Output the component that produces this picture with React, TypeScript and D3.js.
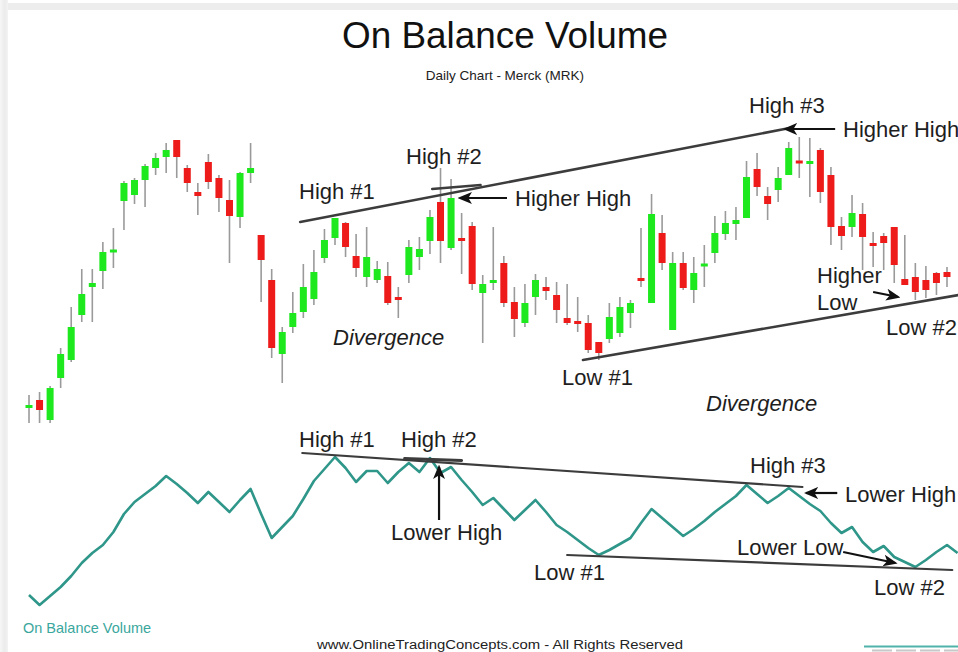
import React from "react";
import * as d3 from "d3";

// ---- Data (daily candles, Merck) ----
const opens = [31.65,32.00,31.00,33.10,34.00,36.25,37.65,38.45,39.40,41.95,
42.25,43.00,43.60,44.15,45.00,43.60,42.40,43.90,43.10,42.00,
41.15,43.35,40.25,38.00,34.30,35.65,36.40,37.05,39.10,40.10,
40.85,39.20,38.15,38.00,38.20,37.15,38.25,39.15,39.95,41.90,
39.60,40.10,40.70,37.35,37.85,38.85,36.90,35.85,37.15,37.65,
37.25,36.10,35.95,35.85,34.90,35.05,35.35,36.35,38.10,36.85,
40.35,35.50,38.85,37.50,38.70,39.35,40.30,40.80,41.10,43.55,
42.20,42.50,43.25,43.95,43.85,44.50,43.25,40.70,40.65,41.30,
39.85,40.20,40.65,38.05,38.15,38.00,38.35,38.40];
const highs = [32.25,32.40,32.70,34.60,36.65,38.55,38.55,39.90,40.60,42.95,
43.10,43.80,44.35,44.85,45.00,43.75,42.85,44.30,43.25,43.00,
43.40,44.85,40.25,38.55,35.65,37.40,38.80,39.50,40.55,41.10,
40.90,40.30,40.65,38.95,38.90,37.65,40.00,40.15,41.50,43.60,
43.05,41.35,40.90,38.25,40.65,39.20,37.65,37.80,38.30,38.15,
37.90,37.80,37.15,36.25,34.90,36.85,37.15,37.00,40.60,42.30,
41.25,39.40,39.40,39.15,39.75,41.20,41.45,41.65,43.95,44.35,
42.65,43.65,44.90,45.15,45.10,44.60,43.65,41.15,42.25,41.85,
40.40,40.35,40.65,40.25,38.85,38.70,38.40,38.65];
const lows = [30.85,30.85,30.85,32.60,33.90,35.90,35.90,37.55,38.60,40.50,
41.80,41.65,43.25,43.35,43.10,42.40,41.25,42.55,41.40,38.85,
40.60,42.85,36.90,34.10,32.85,35.35,36.10,36.75,38.85,39.75,
39.15,38.15,37.65,37.85,36.75,36.10,37.85,38.50,39.30,38.85,
39.50,38.30,37.50,34.85,37.50,36.65,35.15,35.65,36.25,37.00,
35.85,35.75,35.40,34.35,34.00,34.85,35.15,35.60,37.65,36.85,
38.50,35.50,37.50,36.85,37.65,38.85,40.00,40.00,41.10,42.20,
41.00,41.90,43.25,43.10,42.15,41.85,39.75,39.50,40.15,38.50,
38.65,38.50,37.85,37.75,37.00,37.10,37.25,37.65];
const closes = [31.70,31.50,32.60,34.30,35.65,37.30,37.85,39.40,39.50,42.85,
43.00,43.70,44.10,44.50,44.15,42.85,42.20,42.90,42.10,41.20,
43.35,43.60,39.00,34.60,35.40,36.35,37.65,38.40,40.00,41.10,
39.65,38.60,39.15,38.55,36.85,37.00,39.65,39.55,41.15,39.95,
42.10,39.95,37.80,37.80,38.00,36.85,36.05,36.85,38.00,37.45,
36.50,35.85,35.80,34.50,34.35,36.15,36.65,36.85,37.95,41.30,
38.85,38.85,37.60,38.35,38.80,40.35,40.85,41.00,43.15,42.65,
41.80,43.10,44.60,43.85,43.90,42.40,40.65,40.20,41.35,40.15,
39.70,39.85,38.75,37.75,37.40,37.50,37.85,38.15];

// On Balance Volume (arbitrary units)
const obv = [15,5,14,23,34,47,57,65,78,96,
108,116,124,134,126,117,107,118,108,98,
110,121,96,72,83,94,111,129,141,153,
142,128,139,139,127,138,147,138,152,137,
143,130,118,105,112,101,90,100,110,98,
85,78,70,62,55,60,66,72,87,101,
92,83,74,81,89,98,106,114,125,116,
107,114,122,114,106,99,87,77,83,68,
58,64,53,48,43,50,58,65,57];

// Trend lines: [index0, value0, index1, value1]
const priceTrendLines = [
  [25.7, 40.9, 72.1, 45.6],
  [52.5, 34.0, 88.1, 37.25],
];
const priceTicks = [[38.2, 42.55, 42.8, 42.75]];
const obvTrendLines = [
  [25.9, 157, 73.3, 123],
  [51.0, 55, 87.5, 40],
];
const obvTicks = [[35.6, 151.5, 41.0, 149.5]];

// Arrows: [index0, value0, index1, value1] (tail -> head)
const priceArrows = [
  [45.3, 42.1, 40.85, 42.1],
  [76.4, 45.55, 71.66, 45.55],
  [80.0, 37.4, 82.37, 37.15],
];
const obvArrows = [
  [38.86, 90, 38.86, 143],
  [76.6, 117, 73.65, 117],
  [77.16, 58, 82.1, 47],
];

const labels = [
  { t: "High #1", x: 299, y: 199 },
  { t: "High #2", x: 406, y: 164 },
  { t: "Higher High", x: 515, y: 206 },
  { t: "Divergence", x: 333, y: 345, it: true },
  { t: "Low #1", x: 562, y: 385 },
  { t: "High #3", x: 749, y: 113 },
  { t: "Higher High", x: 843, y: 137 },
  { t: "Higher", x: 817, y: 283 },
  { t: "Low", x: 817, y: 310 },
  { t: "Low #2", x: 886, y: 335 },
  { t: "Divergence", x: 706, y: 411, it: true },
  { t: "High #1", x: 299, y: 447 },
  { t: "High #2", x: 401, y: 447 },
  { t: "Lower High", x: 391, y: 540 },
  { t: "Low #1", x: 534, y: 580 },
  { t: "High #3", x: 750, y: 473 },
  { t: "Lower High", x: 845, y: 502 },
  { t: "Lower Low", x: 737, y: 555 },
  { t: "Low #2", x: 874, y: 595 },
];

const W = 958, H = 652;
const FONT = "'Liberation Sans', Arial, Helvetica, sans-serif";

export default function App() {
  const x = d3.scaleLinear().domain([0, 87]).range([29, 947]);
  const yP = d3.scaleLinear().domain([30, 46]).range([440, 120]);
  const yO = d3.scaleLinear().domain([0, 160]).range([610, 450]);
  const bodyW = 7;
  const obvLine = d3.line<number>().x((_, i) => x(i)).y((d) => yO(d));

  const seg = (s: number[], y: d3.ScaleLinear<number, number>, w: number, k: string) => (
    <line key={k} x1={x(s[0])} y1={y(s[1])} x2={x(s[2])} y2={y(s[3])} stroke="#3c3c3c" strokeWidth={w} strokeLinecap="round" />
  );
  const arrow = (s: number[], y: d3.ScaleLinear<number, number>, k: string) => (
    <line key={k} x1={x(s[0])} y1={y(s[1])} x2={x(s[2])} y2={y(s[3])} stroke="#111" strokeWidth={2.2} markerEnd="url(#ah)" />
  );

  return (
    <svg width={W} height={H} style={{ position: "absolute", left: 0, top: 0, background: "#fff" }} fontFamily={FONT}>
      <defs>
        <marker id="ah" viewBox="0 0 12 10" refX="10" refY="5" markerWidth="6.5" markerHeight="6" orient="auto" markerUnits="strokeWidth">
          <path d="M0,0 L12,5 L0,10 L3,5 z" fill="#111" />
        </marker>
        <linearGradient id="lg" x1="0" x2="1" y1="0" y2="0">
          <stop offset="0" stopColor="#f6f6f6" />
          <stop offset="0.6" stopColor="#ebebeb" />
          <stop offset="1" stopColor="#f3f3f3" />
        </linearGradient>
      </defs>
      <rect x={0} y={0} width={W} height={H} fill="#fff" />
      <rect x={0} y={3} width={W} height={7} fill="#ededed" />
      <rect x={0} y={0} width={8} height={H} fill="url(#lg)" />

      <text x={505} y={48} fontSize={36} textAnchor="middle" fill="#111" textLength={326} lengthAdjust="spacingAndGlyphs">On Balance Volume</text>
      <text x={505} y={80} fontSize={13.5} textAnchor="middle" fill="#222">Daily Chart - Merck (MRK)</text>

      {/* candles */}
      {opens.map((o, i) => {
        const c = closes[i];
        const up = c >= o;
        const top = yP(Math.max(o, c));
        const bot = yP(Math.min(o, c));
        const h = Math.max(3, bot - top);
        return (
          <g key={"c" + i}>
            <line x1={x(i)} x2={x(i)} y1={yP(highs[i])} y2={yP(lows[i])} stroke="#9a9a9a" strokeWidth={1.6} />
            <rect x={x(i) - bodyW / 2} y={(top + bot) / 2 - h / 2} width={bodyW} height={h} fill={up ? "#1ee81e" : "#ee1b1b"} />
          </g>
        );
      })}

      {priceTrendLines.map((s, i) => seg(s, yP, 2.6, "pt" + i))}
      {priceTicks.map((s, i) => seg(s, yP, 2.4, "pk" + i))}
      {priceArrows.map((s, i) => arrow(s, yP, "pa" + i))}

      {/* OBV */}
      <path d={obvLine(obv) || ""} fill="none" stroke="#2f968a" strokeWidth={2.6} strokeLinejoin="round" />
      {obvTrendLines.map((s, i) => seg(s, yO, 2.2, "ot" + i))}
      {obvTicks.map((s, i) => seg(s, yO, 3, "ok" + i))}
      {obvArrows.map((s, i) => arrow(s, yO, "oa" + i))}

      {labels.map((l, i) => (
        <text key={"l" + i} x={l.x} y={l.y} fontSize={22} fontStyle={l.it ? "italic" : "normal"} fill="#1e1e1e">{l.t}</text>
      ))}

      <text x={23} y={633} fontSize={14.5} fill="#3aa79d">On Balance Volume</text>
      <text x={317} y={648.5} fontSize={12.5} fill="#222" textLength={366} lengthAdjust="spacingAndGlyphs">www.OnlineTradingConcepts.com - All Rights Reserved</text>
      <line x1={864} x2={958} y1={646.5} y2={646.5} stroke="#4fb3aa" strokeWidth={2} />
      <line x1={872} x2={958} y1={650.5} y2={650.5} stroke="#c8c8c8" strokeWidth={2} strokeDasharray="20 4" />
    </svg>
  );
}
